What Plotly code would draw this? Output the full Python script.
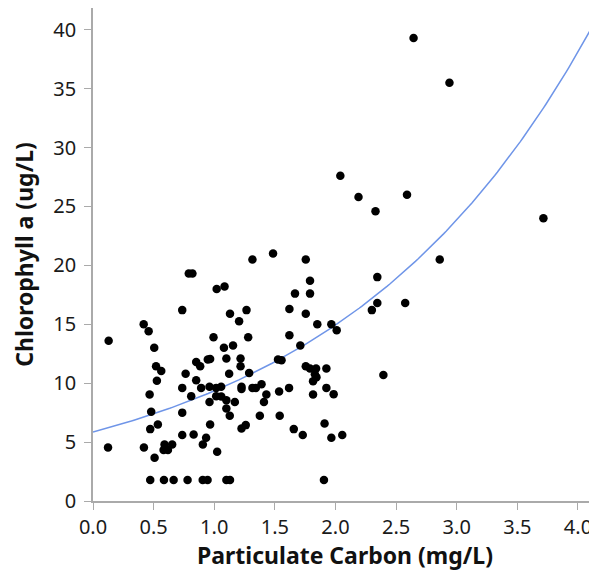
import numpy as np
import plotly.graph_objects as go

# Particulate carbon (mg/L) vs chlorophyll a (ug/L)
carbon = [
    2.644, 2.94, 2.04, 2.19, 2.33, 2.59, 3.715, 2.86, 2.345, 2.345, 2.30, 2.575,
    1.966, 2.01, 2.395, 1.985, 1.966, 2.056,
    1.315, 1.485, 1.755, 1.79, 1.666, 1.79, 1.62, 1.755, 1.85, 1.62, 1.71, 1.526,
    1.555, 1.755, 1.79, 1.84, 1.925, 1.83, 1.815, 1.843, 1.925, 1.815, 1.535, 1.617,
    1.39, 1.43, 1.41, 1.376, 1.54, 1.656, 1.73, 1.91, 1.905, 1.315, 1.343,
    1.02, 1.085, 1.13, 1.266, 1.205, 1.28, 0.994, 1.08, 1.155, 1.10, 1.217, 1.217,
    1.123, 1.288, 1.225, 1.225, 1.057, 1.016, 0.961, 1.016, 1.058, 1.10, 1.17,
    0.961, 1.10, 1.128, 1.225, 1.26, 1.024, 1.10, 1.13,
    0.79, 0.82, 0.736, 0.418, 0.459, 0.505, 0.851, 0.884, 0.947, 0.966, 0.52, 0.563,
    0.764, 0.527, 0.736, 0.851, 0.892, 0.467, 0.81, 0.48, 0.736, 0.966, 0.535, 0.472,
    0.736, 0.83, 0.933, 0.906, 0.42, 0.59, 0.653, 0.582, 0.618, 0.508,
    0.472, 0.585, 0.665, 0.78, 0.905, 0.945,
    0.129, 0.124,
]
chlorophyll = [
    39.3, 35.5, 27.6, 25.8, 24.6, 26.0, 24.0, 20.5, 19.0, 16.8, 16.2, 16.8,
    15.0, 14.5, 10.7, 9.07, 5.36, 5.6,
    20.5, 21.0, 20.5, 18.7, 17.6, 17.6, 16.3, 15.9, 15.0, 14.07, 13.2, 12.0,
    11.95, 11.44, 11.25, 11.25, 11.25, 10.76, 10.17, 10.5, 9.6, 9.04, 9.3, 9.6,
    9.9, 9.04, 8.4, 7.23, 7.23, 6.1, 5.6, 6.58, 1.78, 9.6, 9.6,
    18.0, 18.2, 15.9, 16.2, 15.25, 13.9, 13.9, 13.0, 13.2, 12.1, 12.1, 11.44,
    10.8, 10.87, 9.7, 9.5, 9.7, 9.6, 9.7, 8.9, 8.86, 8.56, 8.4,
    8.4, 7.86, 7.23, 6.16, 6.44, 4.18, 1.78, 1.78,
    19.3, 19.3, 16.2, 15.0, 14.4, 13.0, 11.8, 11.44, 12.0, 12.06, 11.44, 11.04,
    10.8, 10.2, 9.6, 10.25, 9.6, 9.04, 8.9, 7.57, 7.5, 6.5, 6.5, 6.1,
    5.6, 5.65, 5.36, 4.8, 4.55, 4.8, 4.8, 4.32, 4.32, 3.67,
    1.78, 1.78, 1.78, 1.78, 1.78, 1.78,
    13.6, 4.55,
]

# exponential fit  y = a * exp(b * x)
fit_a = 5.85
fit_b = 0.4685

x_ticks = [0.0, 0.5, 1.0, 1.5, 2.0, 2.5, 3.0, 3.5, 4.0]
y_ticks = [0, 5, 10, 15, 20, 25, 30, 35, 40]

fit_x = np.linspace(0, 4.2, 200)
fit_y = fit_a * np.exp(fit_b * fit_x)

fig = go.Figure()

fig.add_trace(go.Scatter(
    x=fit_x, y=fit_y,
    mode='lines',
    line=dict(color='#6f95e8', width=1.5),
    hoverinfo='skip'
))

fig.add_trace(go.Scatter(
    x=carbon, y=chlorophyll,
    mode='markers',
    marker=dict(color='black', size=8.5),
    hovertemplate="%{x:.2f} mg/L<br>%{y:.1f} ug/L<extra></extra>"
))

axis_font = dict(family="Noto Sans, Open Sans, sans-serif", size=20, color='#1a1a1a')
title_font = dict(family="Noto Sans, Open Sans, sans-serif", size=23, color='#111')

# page body has an 8px margin; figure placed so the plot box lines up with the reference
fig.update_layout(
    width=589, height=563,
    margin=dict(l=85, r=0, t=0, b=70),
    paper_bgcolor='white',
    plot_bgcolor='white',
    showlegend=False,
    xaxis=dict(
        range=[0, 4.157],
        tickvals=x_ticks,
        tickformat='.1f',
        ticks='outside', ticklen=7, tickcolor='#aaa', ticklabelstandoff=0,
        showline=True, linecolor='#aaa', linewidth=1.5, mirror=True,
        showgrid=False, zeroline=False, automargin=False,
        tickfont=axis_font,
        title=dict(text="<b>Particulate Carbon (mg/L)</b>", font=title_font, standoff=13),
    ),
    yaxis=dict(
        range=[0, 41.84],
        tickvals=y_ticks,
        ticks='outside', ticklen=7, tickcolor='#aaa', ticklabelstandoff=4,
        showline=True, linecolor='#aaa', linewidth=1.5,
        showgrid=False, zeroline=False, automargin=False,
        tickfont=axis_font,
        title=dict(text="<b>Chlorophyll a (ug/L)</b>", font=title_font, standoff=14),
    ),
)

fig.write_html("out.html")
